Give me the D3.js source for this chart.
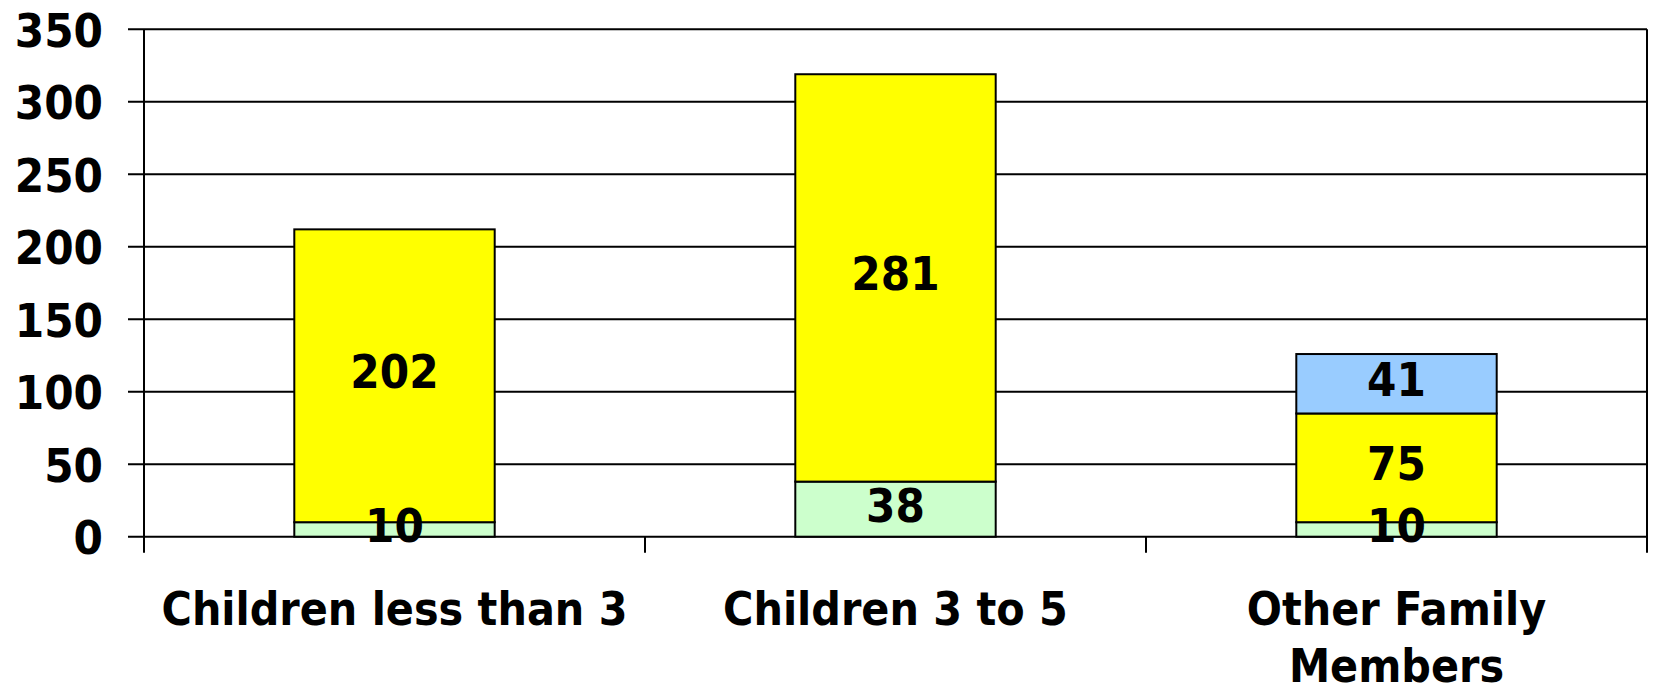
<!DOCTYPE html>
<html>
<head>
<meta charset="utf-8">
<script src="https://cdn.jsdelivr.net/npm/d3@7"></script>
<style>
  html, body { margin: 0; padding: 0; background: #fff; }
  svg text { font-family: 'DejaVu Sans Condensed', 'DejaVu Sans', sans-serif; font-stretch: condensed; font-weight: bold; fill: #000; }
</style>
</head>
<body>
<svg id="chart" width="1655" height="690"></svg>
<script>
const categories = ["Children less than 3", "Children 3 to 5", "Other Family Members"];
const categoryLines = [["Children less than 3"], ["Children 3 to 5"], ["Other Family", "Members"]];
const seriesNames = ["Green", "Yellow", "Blue"];
const seriesColors = ["#CCFFCC", "#FFFF00", "#99CCFF"];
const greenValues = [10, 38, 10];
const yellowValues = [202, 281, 75];
const blueValues = [0, 0, 41];
const yTicks = [0, 50, 100, 150, 200, 250, 300, 350];

const svg = d3.select("#chart");
const plotL = 144, plotR = 1647, plotT = 29.3, plotB = 536.7;

const x = d3.scaleBand().domain(categories).range([plotL, plotR]).paddingInner(0).paddingOuter(0);
const y = d3.scaleLinear().domain([0, 350]).range([plotB, plotT]);

const table = categories.map((c, i) => ({ cat: c, Green: greenValues[i], Yellow: yellowValues[i], Blue: blueValues[i] }));
const stacked = d3.stack().keys(seriesNames)(table);

// gridlines (with left tick extension)
svg.append("g").selectAll("line").data(yTicks).join("line")
  .attr("x1", plotL - 16).attr("x2", plotR)
  .attr("y1", d => y(d)).attr("y2", d => y(d))
  .attr("stroke", "#000").attr("stroke-width", 2);

// y axis line
svg.append("line").attr("x1", plotL).attr("x2", plotL).attr("y1", plotT).attr("y2", plotB + 16)
  .attr("stroke", "#000").attr("stroke-width", 2);
// right border
svg.append("line").attr("x1", plotR).attr("x2", plotR).attr("y1", plotT).attr("y2", plotB + 16)
  .attr("stroke", "#000").attr("stroke-width", 2);
// x ticks
const xTickPos = categories.map(c => x(c)).slice(1);
svg.append("g").selectAll("line").data(xTickPos).join("line")
  .attr("x1", d => d).attr("x2", d => d).attr("y1", plotB).attr("y2", plotB + 16)
  .attr("stroke", "#000").attr("stroke-width", 2);

// y tick labels
svg.append("g").selectAll("text").data(yTicks).join("text")
  .attr("x", 103).attr("y", d => y(d) + 1)
  .attr("text-anchor", "end").attr("dominant-baseline", "central")
  .style("font-size", "47px")
  .text(d => d);

// bars
const barW = x.bandwidth() * 0.4;
const segs = [];
stacked.forEach((s, si) => {
  s.forEach((d, i) => {
    if (d[1] - d[0] > 0) segs.push({ si, cat: categories[i], y0: d[0], y1: d[1], v: d[1] - d[0] });
  });
});
svg.append("g").selectAll("rect").data(segs).join("rect")
  .attr("x", d => x(d.cat) + (x.bandwidth() - barW) / 2)
  .attr("width", barW)
  .attr("y", d => y(d.y1))
  .attr("height", d => y(d.y0) - y(d.y1))
  .attr("fill", d => seriesColors[d.si])
  .attr("stroke", "#000").attr("stroke-width", 2);

// data labels
svg.append("g").selectAll("text").data(segs).join("text")
  .attr("x", d => x(d.cat) + x.bandwidth() / 2)
  .attr("y", d => y((d.y0 + d.y1) / 2) - 4)
  .attr("text-anchor", "middle").attr("dominant-baseline", "central")
  .style("font-size", "47px")
  .text(d => d.v);

// category labels
const catG = svg.append("g");
categoryLines.forEach((lines, i) => {
  const cx = x(categories[i]) + x.bandwidth() / 2;
  lines.forEach((ln, j) => {
    catG.append("text").attr("x", cx).attr("y", 625 + j * 57)
      .attr("text-anchor", "middle")
      .style("font-size", "46px")
      .text(ln);
  });
});
</script>
</body>
</html>
